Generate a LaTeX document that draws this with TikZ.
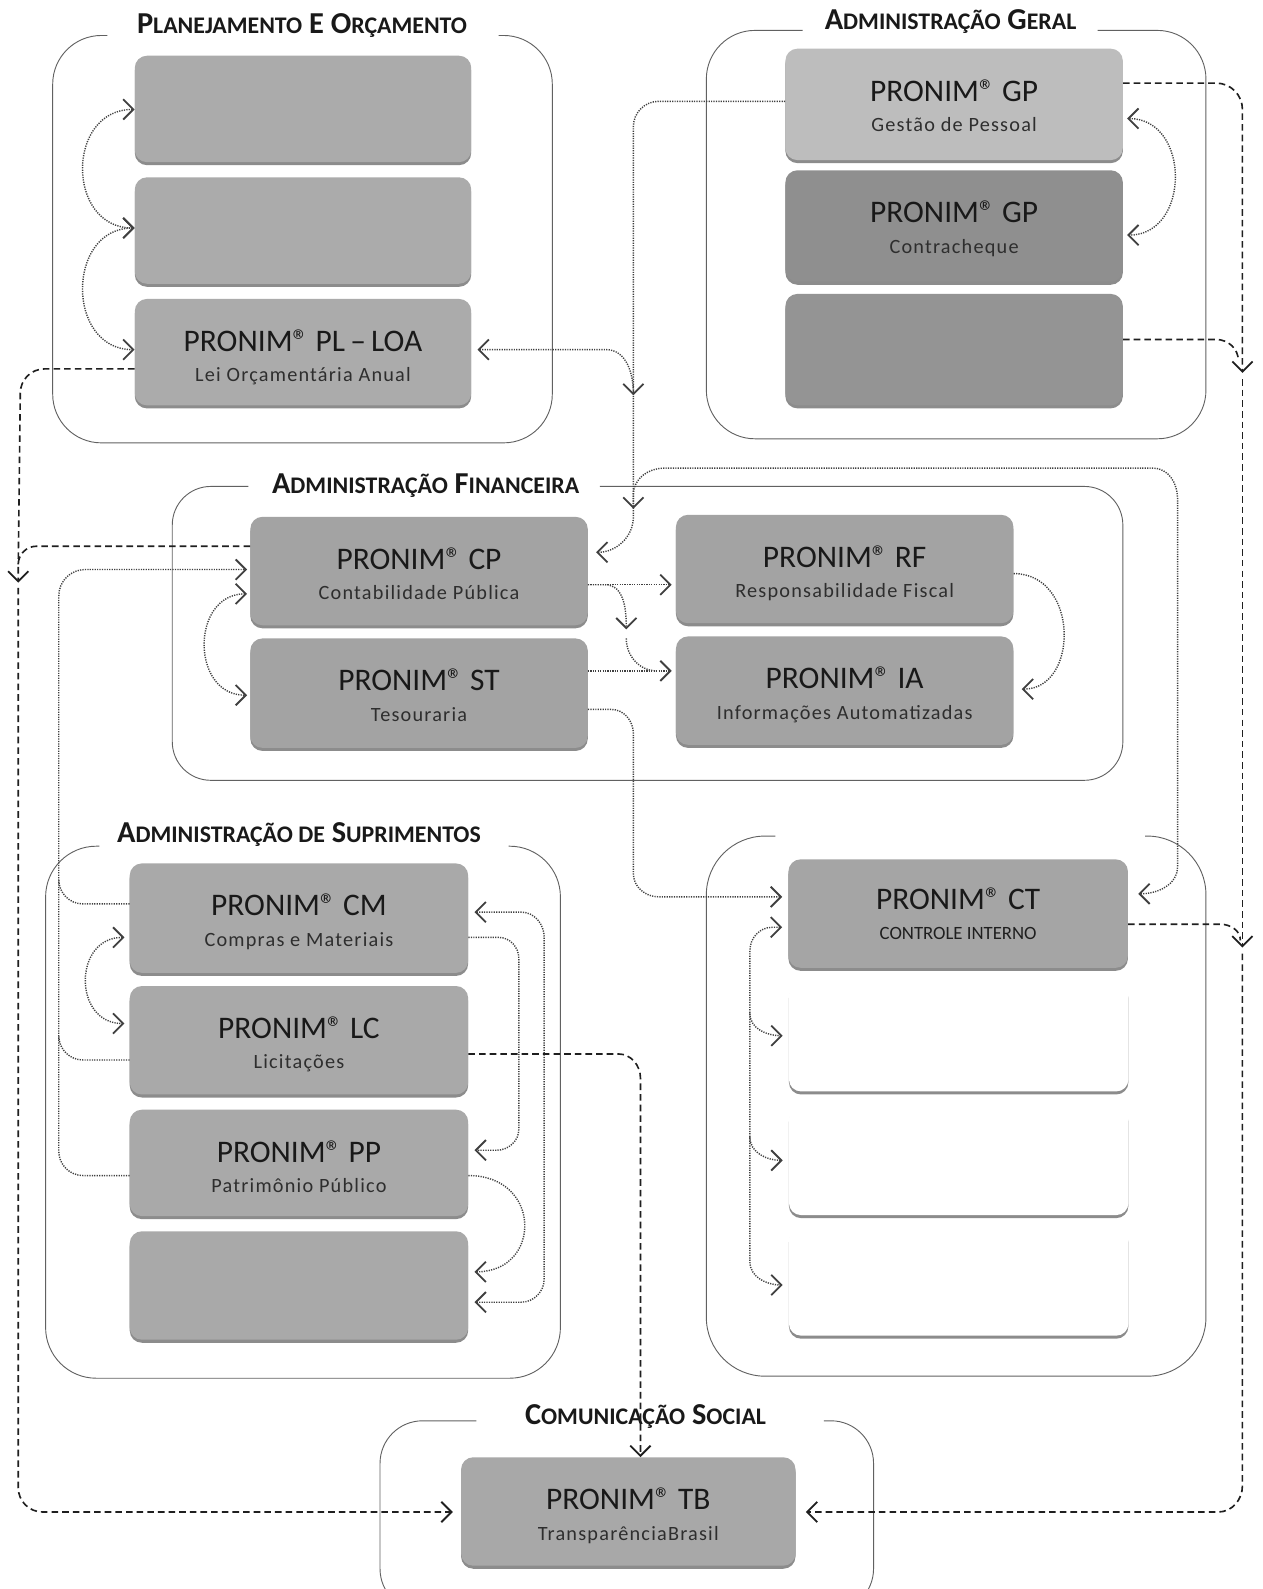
\documentclass[tikz,border=0pt]{standalone}
\usepackage{fontspec}
\setmainfont{Carlito}
\newfontfamily\subfam[LetterSpace=6]{Carlito}
\usetikzlibrary{arrows.meta,shadows}
\definecolor{cPL}{HTML}{ABABAB}
\definecolor{cGPa}{HTML}{BDBDBD}
\definecolor{cGPb}{HTML}{8F8F8F}
\definecolor{cGPc}{HTML}{949494}
\definecolor{cAF}{HTML}{A3A3A3}
\definecolor{cAS}{HTML}{A9A9A9}
\definecolor{cCT}{HTML}{A5A5A5}
\definecolor{cTB}{HTML}{A8A8A8}
\newcommand\BigL[1]{{\fontsize{30}{30}\selectfont #1}}
\newcommand\SmL[1]{{\fontsize{23.5}{24}\selectfont #1}}
\newcommand\Reg{®}
\tikzset{
 pbox/.style={rectangle, rounded corners=12pt, draw=none, minimum width=333pt, minimum height=107pt, inner sep=0pt,
   drop shadow={shadow xshift=0pt, shadow yshift=-3pt, opacity=0.6, fill=black!75}},
 frame/.style={draw=black!62, line width=0.9pt},
 dotc/.style={draw=black!75, line width=1.4pt, dash pattern=on 1.2pt off 1.2pt},
 dashc/.style={draw=black!88, line width=1.6pt, dash pattern=on 6.5pt off 4pt},
 maintxt/.style={font=\fontsize{31}{31}\selectfont, text=black!90, inner sep=0pt, anchor=base},
 subtxt/.style={font=\subfam\fontsize{20}{20}\selectfont, text=black!82, inner sep=0pt, anchor=base},
 cttxt/.style={font=\fontsize{18.5}{19}\selectfont, text=black!88, inner sep=0pt, anchor=base},
 ttl/.style={font=\bfseries, text=black!90, inner sep=0pt, anchor=base},
 >={Straight Barb[length=10pt,width=20pt,line width=1.8pt]}
}
\newcommand\btext[4]{%
 \node[maintxt] (#1m) at ([yshift=-52pt]#2.north) {#3};
 \node[subtxt] (#1s) at ([yshift=-82pt]#2.north) {#4};}
\begin{document}
\begin{tikzpicture}[x=1pt,y=-1pt]
\fill[white] (0,0) rectangle (1246,1568);
\useasboundingbox (0,0) rectangle (1246,1568);

% frames
\draw[frame, rounded corners=48pt] (106,35) -- (52,35) -- (52,437) -- (545,437) -- (545,35) -- (492,35);
\draw[frame, rounded corners=48pt] (792,30) -- (697,30) -- (697,433) -- (1190,433) -- (1190,30) -- (1083,30);
\draw[frame, rounded corners=38pt] (245,480) -- (170,480) -- (170,770) -- (1108,770) -- (1108,480) -- (592,480);
\draw[frame, rounded corners=50pt] (98,835) -- (45,835) -- (45,1360) -- (553,1360) -- (553,835) -- (502,835);
\draw[frame, rounded corners=58pt] (765,825) -- (697,825) -- (697,1358) -- (1190,1358) -- (1190,825) -- (1130,825);
\draw[frame, rounded corners=42pt] (470,1402) -- (375,1402) -- (375,1590) -- (862,1590) -- (862,1402) -- (813,1402);

% titles
\node[ttl] (tPL) at (298,33) {\BigL{P}\SmL{LANEJAMENTO}\BigL{ E O}\SmL{RÇAMENTO}};
\node[ttl] (tAG) at (938,29) {\BigL{A}\SmL{DMINISTRAÇÃO}\BigL{ G}\SmL{ERAL}};
\node[ttl] (tAF) at (420,487) {\BigL{A}\SmL{DMINISTRAÇÃO}\BigL{ F}\SmL{INANCEIRA}};
\node[ttl] (tAS) at (295,831) {\BigL{A}\SmL{DMINISTRAÇÃO DE}\BigL{ S}\SmL{UPRIMENTOS}};
\node[ttl] (tCS) at (637,1406) {\BigL{C}\SmL{OMUNICAÇÃO}\BigL{ S}\SmL{OCIAL}};

% boxes
\node[pbox, fill=cPL, minimum width=332pt, minimum height=105pt] (A1) at (299,107.5) {};
\node[pbox, fill=cPL, minimum width=332pt, minimum height=105pt] (A2) at (299,227.5) {};
\node[pbox, fill=cPL, minimum width=332pt, minimum height=105pt] (LOA) at (299,347.5) {};
\node[pbox, fill=cGPa, minimum height=110pt] (GP1) at (941.5,103) {};
\node[pbox, fill=cGPb, minimum height=110pt] (GP2) at (941.5,223) {};
\node[pbox, fill=cGPc, minimum height=110pt] (GP3) at (941.5,345) {};
\node[pbox, fill=cAF] (CP) at (413.5,563.5) {};
\node[pbox, fill=cAF, minimum height=108pt] (ST) at (413.5,684) {};
\node[pbox, fill=cAF] (RF) at (833.5,561.5) {};
\node[pbox, fill=cAF] (IA) at (833.5,681.5) {};
\node[pbox, fill=cAS, minimum width=334pt, minimum height=108pt] (CM) at (295,906) {};
\node[pbox, fill=cAS, minimum width=334pt] (LC) at (295,1026.5) {};
\node[pbox, fill=cAS, minimum width=334pt, minimum height=105pt] (PP) at (295,1147.5) {};
\node[pbox, fill=cAS, minimum width=334pt] (AS4) at (295,1268.5) {};
\node[pbox, fill=cCT, minimum width=335pt] (CT) at (945.5,901.5) {};
\node[pbox, fill=white, minimum width=335pt] (W1) at (946,1023.5) {};
\node[pbox, fill=white, minimum width=335pt] (W2) at (946,1145.5) {};
\node[pbox, fill=white, minimum width=335pt] (W3) at (946,1264.5) {};
\node[pbox, fill=cTB, minimum width=330pt] (TB) at (620,1491.5) {};

% texts
\btext{LOA}{LOA}{PRONIM\Reg{} PL\,–\,LOA}{Lei Orçamentária Anual}
\btext{GP1}{GP1}{PRONIM\Reg{} GP}{Gestão de Pessoal}
\btext{GP2}{GP2}{PRONIM\Reg{} GP}{Contracheque}
\btext{CP}{CP}{PRONIM\Reg{} CP}{Contabilidade Pública}
\btext{ST}{ST}{PRONIM\Reg{} ST}{Tesouraria}
\btext{RF}{RF}{PRONIM\Reg{} RF}{Responsabilidade Fiscal}
\btext{IA}{IA}{PRONIM\Reg{} IA}{Informações Automatizadas}
\btext{CM}{CM}{PRONIM\Reg{} CM}{Compras e Materiais}
\btext{LC}{LC}{PRONIM\Reg{} LC}{Licitações}
\btext{PP}{PP}{PRONIM\Reg{} PP}{Patrimônio Público}
\btext{TB}{TB}{PRONIM\Reg{} TB}{TransparênciaBrasil}
\node[maintxt] (CTm) at ([yshift=-50pt]CT.north) {PRONIM\Reg{} CT};
\node[cttxt] (CTs) at ([yshift=-79pt]CT.north) {CONTROLE INTERNO};

% --- connectors: Planejamento
\draw[dotc,<->] (A1.west |- 0,108) .. controls (65,108) and (65,225) .. (A2.west |- 0,225);
\draw[dotc,<->] (A2.west |- 0,225) .. controls (65,225) and (65,345) .. (LOA.west |- 0,345);
\draw[dotc,<->] ([xshift=6pt]LOA.east |- 0,345) -- (598,345) to[out=0,in=90] (625,390);

% GP trunk to CP
\draw[dotc,->] (GP1.west |- 0,100) -- (650,100) to[out=180,in=90] (625,125) -- (625,510) to[out=-90,in=0] ([xshift=8pt]CP.east |- 0,545);
% CT link
\draw[dotc,<->] (625,502) -- (625,488) to[out=90,in=180] (655,462) -- (1138,462) to[out=0,in=90] (1162,492) -- (1162,855) to[out=-90,in=0] ([xshift=10pt]CT.east |- 0,882);

% Financeira internal
\draw[dotc,->] (CP.east |- 0,577) -- ([xshift=-4pt]RF.west |- 0,577);
\draw[dotc,->] (CP.east |- 0,577) -- (597,577) to[out=0,in=90] (618,621);
\draw[dotc] (618,630) to[out=-90,in=180] (648,662);
\draw[dotc,->] (ST.east |- 0,662) -- ([xshift=-4pt]IA.west |- 0,662);
\draw[dotc,->] (RF.east |- 0,566) .. controls (1065,566) and (1065,680) .. ([xshift=8pt]IA.east |- 0,680);
\draw[dotc,<->] ([xshift=-3pt]CP.west |- 0,586) .. controls (188,586) and (188,686) .. ([xshift=-3pt]ST.west |- 0,686);

% Suprimentos -> CP trunk
\draw[dotc,->] (PP.west |- 0,1160) -- (82,1160) to[out=180,in=-90] (58,1136) -- (58,588) to[out=90,in=180] (84,562) -- ([xshift=-3pt]CP.west |- 0,562);
\draw[dotc] (CM.west |- 0,892) -- (82,892) to[out=180,in=-90] (58,868);
\draw[dotc] (LC.west |- 0,1046) -- (82,1046) to[out=180,in=-90] (58,1022);

% left dashed trunk
\draw[dashc] (LOA.west |- 0,364) -- (44,364) to[out=180,in=90] (20,388) -- (18,557);
\draw[dashc,->] (CP.west |- 0,539) -- (36,539) to[out=180,in=90] (18,557) -- (18,575);
\draw[dashc,->] (18,580) -- (18,1468) to[out=-90,in=180] (42,1492) -- ([xshift=-8pt]TB.west |- 0,1492);

% right dashed trunk
\draw[dashc,->] (GP1.east |- 0,82) -- (1200,82) to[out=0,in=90] (1226,108) -- (1226,368);
\draw[dashc] (GP3.east |- 0,335) -- (1200,335) to[out=0,in=90] (1222,356);
\draw[dashc,->] (1226,374) -- (1226,935);
\draw[dashc] (CT.east |- 0,912) -- (1204,912) to[out=0,in=90] (1224,928);
\draw[dashc,->] (1226,941) -- (1226,1466) to[out=-90,in=0] (1202,1492) -- ([xshift=10pt]TB.east |- 0,1492);

% GP1 <-> GP2
\draw[dotc,<->] ([xshift=4pt]GP1.east |- 0,117) .. controls (1175,117) and (1175,232) .. ([xshift=4pt]GP2.east |- 0,232);

% ST -> CT
\draw[dotc,->] (ST.east |- 0,700) -- (603,700) to[out=0,in=90] (625,724) -- (625,862) to[out=-90,in=180] (650,885) -- ([xshift=-6pt]CT.west |- 0,885);
% CT -> white boxes
\draw[dotc,<->] ([xshift=-6pt]CT.west |- 0,915) -- (762,915) to[out=180,in=90] (740,938) -- (740,1245) to[out=-90,in=180] ([xshift=-6pt]W3.west |- 0,1268);
\draw[dotc,->] (740,1000) to[out=-90,in=180] ([xshift=-6pt]W1.west |- 0,1022);
\draw[dotc,->] (740,1122) to[out=-90,in=180] ([xshift=-6pt]W2.west |- 0,1145);

% Suprimentos internal
\draw[dotc,<->] ([xshift=-5pt]CM.west |- 0,925) .. controls (72,925) and (72,1010) .. ([xshift=-5pt]LC.west |- 0,1010);
\draw[dotc,<->] ([xshift=6pt]CM.east |- 0,900) -- (514,900) to[out=0,in=90] (537,925) -- (537,1262) to[out=-90,in=0] (514,1285) -- ([xshift=6pt]AS4.east |- 0,1285);
\draw[dotc,->] (CM.east |- 0,925) -- (492,925) to[out=0,in=90] (512,946) -- (512,1114) to[out=-90,in=0] (490,1135) -- ([xshift=6pt]PP.east |- 0,1135);
\draw[dotc,->] (PP.east |- 0,1160) .. controls (535,1160) and (535,1255) .. ([xshift=6pt]AS4.east |- 0,1255);

% LC -> TB
\draw[dashc,->] (LC.east |- 0,1040) -- (610,1040) to[out=0,in=90] (632,1064) -- (TB.north -| 632,0);
\end{tikzpicture}
\end{document}
